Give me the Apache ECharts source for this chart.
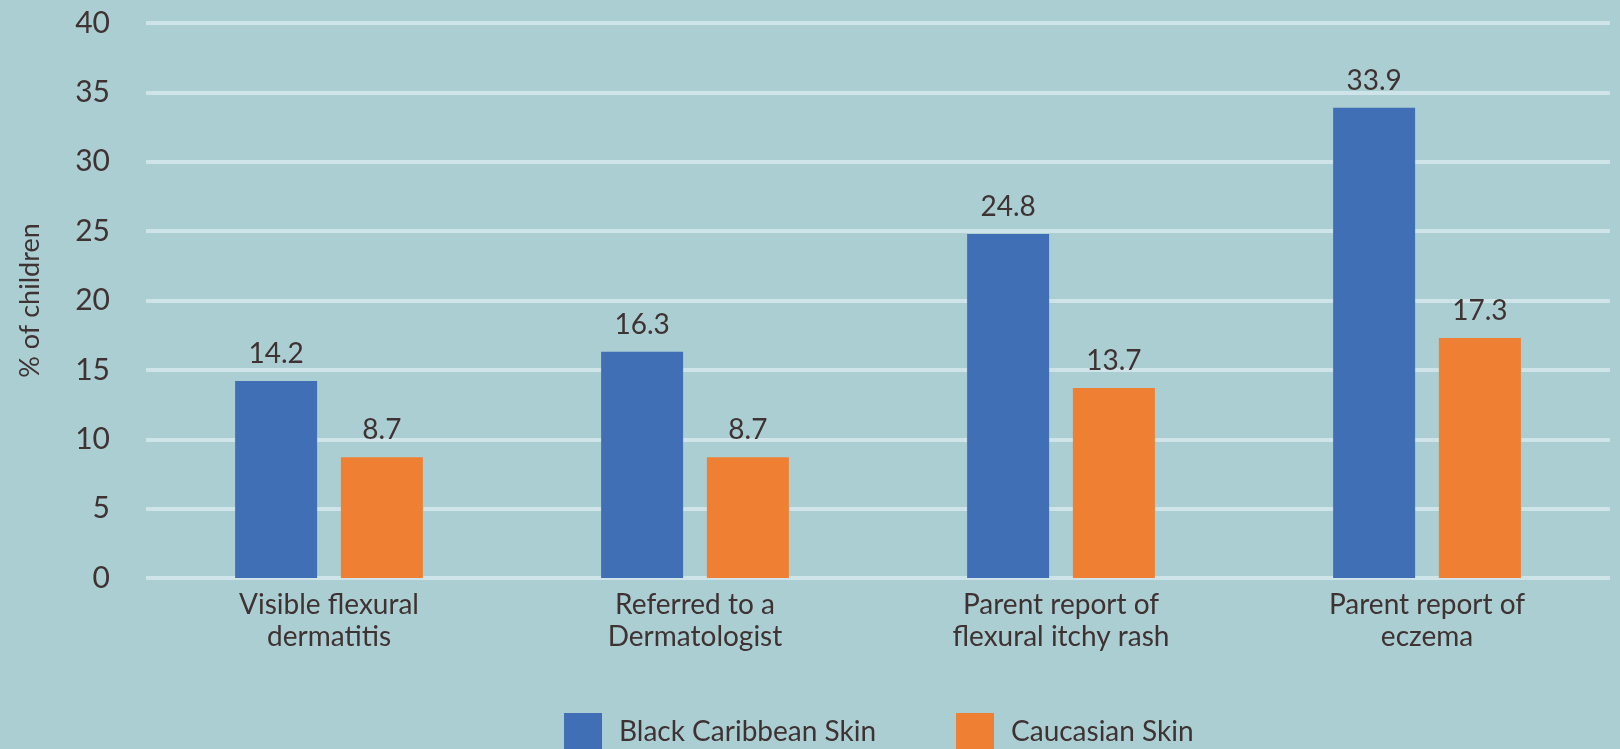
<!DOCTYPE html>
<html>
<head>
<meta charset="utf-8">
<script src="https://cdn.jsdelivr.net/npm/echarts@6/dist/echarts.min.js"></script>
<style>
html,body{margin:0;padding:0;background:#abced3;}
#c{width:1620px;height:749px;}
</style>
</head>
<body>
<div id="c"></div>
<script>
const categories = ["Visible flexural\ndermatitis", "Referred to a\nDermatologist", "Parent report of\nflexural itchy rash", "Parent report of\neczema"];
const blackCaribbean = [14.2, 16.3, 24.8, 33.9];
const caucasian = [8.7, 8.7, 13.7, 17.3];
const seriesNames = ["Black Caribbean Skin", "Caucasian Skin"];
const yAxisName = "% of children";

const textColor = '#3e3232';
const font = 'Lato';
const chart = echarts.init(document.getElementById('c'));
chart.setOption({
  backgroundColor: '#abced3',
  animation: false,
  grid: {left: 146, right: 10, top: 23, bottom: 171, containLabel: false},
  legend: {
    left: 564, top: 713, padding: 0,
    itemWidth: 38, itemHeight: 38, itemGap: 80,
    icon: 'rect',
    textStyle: {fontFamily: font, fontSize: 28, color: textColor, padding: [0,0,0,12]},
    data: seriesNames
  },
  xAxis: {
    type: 'category',
    data: categories,
    axisLine: {show: false},
    axisTick: {show: false},
    axisLabel: {fontFamily: font, fontSize: 28, color: textColor, lineHeight: 32, margin: 11, interval: 0}
  },
  yAxis: {
    type: 'value', min: 0, max: 40, interval: 5,
    name: yAxisName, nameLocation: 'middle', nameGap: 102, nameRotate: 90,
    nameTextStyle: {fontFamily: font, fontSize: 27, color: textColor},
    axisLine: {show: false}, axisTick: {show: false},
    axisLabel: {fontFamily: font, fontSize: 30, color: textColor, margin: 36},
    splitLine: {lineStyle: {color: '#cfe4e8', width: 4}}
  },
  series: [
    {name: seriesNames[0], type: 'bar', data: blackCaribbean, barWidth: 82, barGap: '29%',
     itemStyle: {color: '#416fb5'},
     label: {show: true, position: 'top', distance: 13, fontFamily: font, fontSize: 28, color: textColor}},
    {name: seriesNames[1], type: 'bar', data: caucasian, barWidth: 82,
     itemStyle: {color: '#ee7f33'},
     label: {show: true, position: 'top', distance: 13, fontFamily: font, fontSize: 28, color: textColor}}
  ]
});
</script>
</body>
</html>
